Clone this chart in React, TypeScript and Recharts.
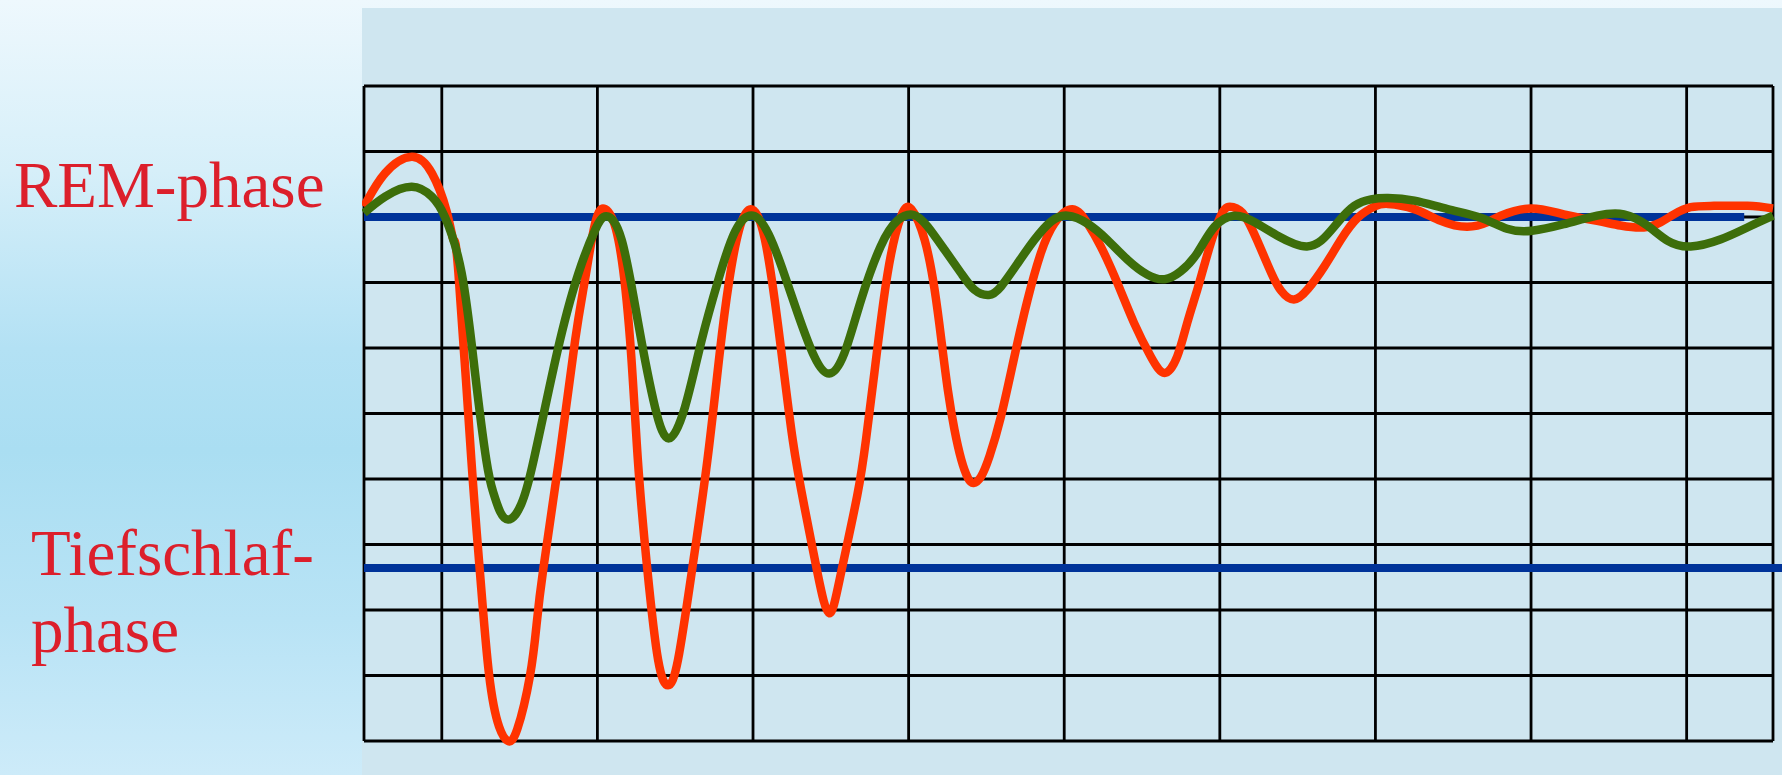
import { LineChart, Line, XAxis, YAxis, CartesianGrid, ReferenceLine } from "recharts";

// Sleep cycle chart: REM / deep-sleep oscillations that fade out over the night.
// x is measured in grid columns, y in grid rows (0 = bottom border, 10 = top).

const X_MAX = 9.055;
const xGridTicks = [0, 0.5, 1.5, 2.5, 3.5, 4.5, 5.5, 6.5, 7.5, 8.5, X_MAX];
const yGridTicks = [0, 1, 2, 3, 4, 5, 6, 7, 8, 9, 10];

const REM_LEVEL = 8;
const REM_LINE_END = 8.87;
const DEEP_LEVEL = 2.64;
const DEEP_LINE_END = 9.113;

// red curve (x, y)
const redX = [
  0, 0.136, 0.307, 0.436, 0.532, 0.575, 0.607, 0.69, 0.743, 0.803, 0.868, 0.925, 0.985, 1.067, 1.11, 1.153, 1.253,
  1.357, 1.42, 1.485, 1.55, 1.635, 1.71, 1.76, 1.82, 1.89, 1.954, 2.018, 2.11, 2.207, 2.285, 2.345, 2.41,
  2.485, 2.577, 2.673, 2.755, 2.83, 2.915, 2.99, 3.065, 3.17, 3.226, 3.28, 3.365, 3.45, 3.517, 3.603, 3.667,
  3.71, 3.752, 3.795, 3.838, 3.88, 3.917, 3.966, 4.02, 4.094, 4.18, 4.265, 4.35, 4.436, 4.553, 4.65, 4.735,
  4.842, 4.949, 5.056, 5.145, 5.226, 5.29, 5.355, 5.419, 5.51, 5.585, 5.66, 5.746, 5.83, 5.895, 5.976, 6.066,
  6.173, 6.28, 6.387, 6.494, 6.58, 6.75, 6.92, 7.09, 7.22, 7.306, 7.496, 7.71, 7.925, 8.075, 8.225, 8.333,
  8.418, 8.526, 8.676, 8.89, 9.055,
];
const redY = [
  8.16, 8.67, 8.92, 8.67, 8.08, 7.65, 7.14, 4.29, 2.64, 1.03, 0.22, 0, 0.18, 1.0, 1.8, 2.64, 4.29,
  6.12, 7.04, 7.9, 8.12, 7.65, 6.12, 4.29, 2.64, 1.24, 0.85, 1.24, 2.64, 4.29, 5.9, 7.0, 7.8,
  8.12, 7.65, 6.12, 4.6, 3.58, 2.56, 1.95, 2.56, 3.75, 4.6, 5.62, 7.14, 8.0, 8.12, 7.65, 6.89,
  6.13, 5.36, 4.75, 4.3, 4.02, 3.94, 4.04, 4.35, 4.96, 5.87, 6.74, 7.45, 7.9, 8.12, 7.9, 7.55,
  6.99, 6.38, 5.87, 5.62, 5.87, 6.38, 6.89, 7.42, 8.04, 8.15, 8.02, 7.61, 7.15, 6.87, 6.74, 6.9,
  7.25, 7.66, 7.99, 8.16, 8.2, 8.12, 7.94, 7.85, 7.92, 8.02, 8.13, 8.04, 7.94, 7.87, 7.84, 7.92,
  8.04, 8.15, 8.17, 8.17, 8.13,
];

// green curve (x, y)
const greenX = [
  0, 0.136, 0.307, 0.436, 0.52, 0.628, 0.714, 0.786, 0.83, 0.875, 0.925, 0.975, 1.011, 1.082, 1.24, 1.378,
  1.485, 1.558, 1.656, 1.763, 1.87, 1.96, 2.063, 2.17, 2.277, 2.385, 2.5, 2.6, 2.69, 2.787, 2.894, 2.99,
  3.087, 3.194, 3.32, 3.43, 3.534, 3.624, 3.731, 3.838, 3.923, 4.015, 4.094, 4.2, 4.308, 4.415, 4.521, 4.65,
  4.778, 4.906, 5.034, 5.145, 5.248, 5.355, 5.465, 5.596, 5.724, 5.874, 5.98, 6.06, 6.152, 6.259, 6.365, 6.472,
  6.58, 6.75, 6.964, 7.177, 7.346, 7.506, 7.71, 7.925, 8.097, 8.247, 8.376, 8.526, 8.72, 8.89, 9.055,
];
const greenY = [
  8.06, 8.31, 8.46, 8.31, 8.0, 7.14, 5.61, 4.29, 3.8, 3.5, 3.38, 3.46, 3.62, 4.2, 5.92, 7.14,
  7.8, 8.01, 7.65, 6.37, 5.1, 4.62, 5.1, 6.12, 7.04, 7.78, 8.02, 7.74, 7.2, 6.53, 5.87, 5.61,
  5.92, 6.73, 7.55, 7.95, 8.03, 7.85, 7.5, 7.14, 6.89, 6.81, 6.94, 7.29, 7.65, 7.93, 8.02, 7.9,
  7.65, 7.35, 7.12, 7.05, 7.17, 7.45, 7.85, 8.02, 7.92, 7.71, 7.59, 7.55, 7.64, 7.92, 8.17, 8.27,
  8.29, 8.25, 8.12, 7.99, 7.82, 7.79, 7.89, 8.02, 8.04, 7.87, 7.64, 7.55, 7.66, 7.84, 8.02,
];

const redData = redX.map((x, i) => ({ x, y: redY[i] }));
const greenData = greenX.map((x, i) => ({ x, y: greenY[i] }));

const LABEL_RED = "#dc1f2b";
const labelFont = "'Liberation Serif', 'Times New Roman', serif";

export default function App() {
  return (
    <div
      style={{
        position: "absolute",
        left: 0,
        top: 0,
        width: 1782,
        height: 775,
        overflow: "hidden",
        background:
          "linear-gradient(to bottom, #eef8fd 0%, #d6eff9 22%, #b3e1f4 45%, #aadef2 58%, #b8e3f5 80%, #cdebf9 100%)",
      }}
    >
      <svg width={362} height={775} style={{ position: "absolute", left: 0, top: 0 }}>
        <text x={14} y={207} fontFamily={labelFont} fontSize={65} fill={LABEL_RED}>
          REM-phase
        </text>
        <text x={31} y={575} fontFamily={labelFont} fontSize={65} fill={LABEL_RED}>
          Tiefschlaf-
        </text>
        <text x={31} y={652} fontFamily={labelFont} fontSize={65} fill={LABEL_RED}>
          phase
        </text>
      </svg>
      <div style={{ position: "absolute", left: 362, top: 8, width: 1420, height: 767, background: "#cfe6f0" }}>
        <LineChart width={1420} height={767} margin={{ top: 78, right: 9, bottom: 34, left: 2 }}>
          <XAxis type="number" dataKey="x" domain={[0, X_MAX]} ticks={xGridTicks} hide />
          <YAxis type="number" dataKey="y" domain={[0, 10]} ticks={yGridTicks} hide />
          <CartesianGrid stroke="#000" strokeWidth={2.8} />
          <ReferenceLine
            segment={[{ x: 0, y: REM_LEVEL }, { x: REM_LINE_END, y: REM_LEVEL }]}
            stroke="#003399"
            strokeWidth={8}
            ifOverflow="visible"
          />
          <ReferenceLine
            segment={[{ x: 0, y: DEEP_LEVEL }, { x: DEEP_LINE_END, y: DEEP_LEVEL }]}
            stroke="#003399"
            strokeWidth={8}
            ifOverflow="visible"
          />
          <Line data={redData} dataKey="y" type="natural" stroke="#ff3300" strokeWidth={8.5} dot={false} isAnimationActive={false} />
          <Line data={greenData} dataKey="y" type="natural" stroke="#3d6e0a" strokeWidth={8.5} dot={false} isAnimationActive={false} />
        </LineChart>
      </div>
    </div>
  );
}
